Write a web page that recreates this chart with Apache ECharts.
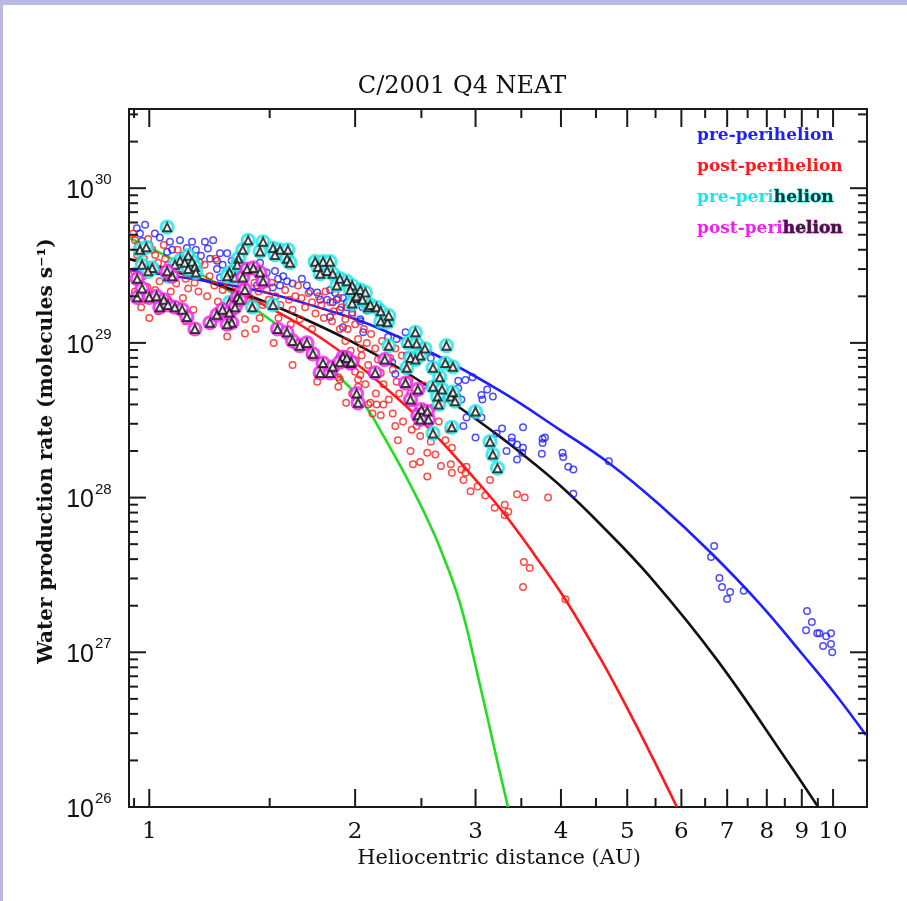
<!DOCTYPE html>
<html>
<head>
<meta charset="utf-8">
<script src="https://cdn.jsdelivr.net/npm/echarts@6/dist/echarts.min.js"></script>
<style>
html,body{margin:0;padding:0;background:#fff;}
#chart{width:907px;height:901px;}
</style>
</head>
<body>
<div id="chart"></div>
<script>
// ---------- axis ranges & ticks ----------
const X_MIN = 0.934, X_MAX = 11.21;
const Y_MIN = 1e26, Y_MAX = 3.25e30;
const xTickValues = [1, 2, 3, 4, 5, 6, 7, 8, 9, 10];
const xTickLabels = ['1', '2', '3', '4', '5', '6', '7', '8', '9', '10'];
const xMinorTicks = [0.95, 1.5, 2.5, 3.5, 4.5, 5.5, 6.5, 7.5, 8.5, 9.5];
const yTickValues = [1e26, 1e27, 1e28, 1e29, 1e30];
const yTickExponents = ['26', '27', '28', '29', '30'];
const yMinorTicks = [2e26, 3e26, 4e26, 5e26, 6e26, 7e26, 8e26, 9e26,
  2e27, 3e27, 4e27, 5e27, 6e27, 7e27, 8e27, 9e27,
  2e28, 3e28, 4e28, 5e28, 6e28, 7e28, 8e28, 9e28,
  2e29, 3e29, 4e29, 5e29, 6e29, 7e29, 8e29, 9e29,
  2e30, 3e30];

// ---------- model curves ----------
const blueModel = [[0.934,2.96e29],[1.404,2.23e29],[1.838,1.61e29],[2.105,1.31e29],[2.574,8.73e28],[3.26,4.89e28],[3.987,2.74e28],[4.72,1.65e28],[5.58,8.96e27],[6.61,4.45e27],[7.82,2.05e27],[9.04,9.6e26],[10.07,5.38e26],[11.17,2.92e26]];
const blackModel = [[0.934,3.49e29],[1.186,2.59e29],[1.404,2.01e29],[1.662,1.47e29],[1.968,1.03e29],[2.33,6.78e28],[2.753,4.21e28],[3.26,2.47e28],[3.60,1.75e28],[4.055,1.12e28],[4.563,6.75e27],[5.40,3.07e27],[6.77,8.9e26],[8.56,2.0e26],[9.51,1.0e26]];
const redModel = [[0.934,3.49e29],[1.002,3.24e29],[1.186,2.61e29],[1.404,1.94e29],[1.662,1.31e29],[1.968,7.87e28],[2.33,4.21e28],[2.635,2.47e28],[2.975,1.36e28],[3.29,8.07e27],[3.66,4.26e27],[4.055,2.21e27],[4.563,9.19e26],[4.98,4.5e26],[5.44,2.1e26],[5.91,1.0e26]];
const greenModel = [[0.937,4.76e29],[1.252,2.44e29],[1.552,1.27e29],[1.764,8.1e28],[1.968,5.11e28],[2.09,3.68e28],[2.175,2.74e28],[2.303,1.75e28],[2.406,1.22e28],[2.53,7.83e27],[2.662,4.72e27],[2.847,2.08e27],[3.045,6.15e26],[3.226,2.0e26],[3.346,1.0e26]];

// ---------- observations ----------
const bluePre = [
[0.959,5.5e29],[0.969,5.1e29],[0.986,5.8e29],[0.976,4.55e29],[1.0,4.3e29],[1.019,5.1e29],[1.036,4.8e29],
[1.072,4.5e29],[1.08,4.0e29],[1.062,3.87e29],[1.109,4.6e29],[1.135,4.1e29],[1.12,3.66e29],[1.155,4.5e29],
[1.17,4.0e29],[1.19,3.66e29],[1.218,4.07e29],[1.227,3.5e29],[1.256,3.4e29],[1.269,3.8e29],[1.3,3.8e29],
[1.28,3.2e29],[1.256,3.0e29],[1.32,3.4e29],[1.325,3.0e29],[1.335,2.7e29],[1.269,2.65e29],[1.24,4.6e29],[1.206,4.5e29],
[1.452,3.3e29],[1.485,2.85e29],[1.527,2.92e29],[1.543,2.6e29],[1.57,2.7e29],[1.59,2.5e29],[1.62,2.42e29],
[1.553,2.35e29],[1.516,2.28e29],[1.467,2.5e29],[1.437,2.35e29],[1.672,2.6e29],[1.70,2.35e29],[1.719,2.16e29],[1.76,2.12e29],
[1.778,1.9e29],[1.82,1.9e29],[1.838,2.2e29],[1.88,1.9e29],[1.9,1.64e29],[1.945,1.7e29],[1.98,1.57e29],
[2.01,1.83e29],[2.05,1.7e29],[2.035,1.42e29],[1.838,1.47e29],
[1.87,2.1e29],[1.92,1.95e29],[1.855,1.83e29],[1.945,1.83e29],[2.08,1.62e29],[2.035,1.38e29],[2.055,1.17e29],
[1.92,1.26e29],[2.235,1.09e29],[2.37,1.17e29],[2.3,1.06e29],[2.38,8.3e28],[2.265,7.5e28],[2.58,8.0e28],
[2.29,6.3e28],[2.83,5.7e28],[2.9,5.75e28],[2.83,5.1e28],[2.82,4.5e28],[2.86,4.3e28],[3.06,4.6e28],
[3.07,4.3e28],[3.12,5.0e28],[3.18,4.5e28],[2.97,6.0e28],[2.91,3.3e28],[3.06,3.3e28],[2.88,2.9e28],
[3.22,2.6e28],[3.28,2.8e28],[3.39,2.45e28],[3.52,2.85e28],[3.51,1.95e28],[3.33,2.0e28],[3.45,1.76e28],[3.0,2.45e28],
[3.39,2.3e28],[3.45,2.2e28],[3.52,2.1e28],[3.76,2.4e28],[3.79,2.45e28],[3.76,2.25e28],[3.75,1.92e28],
[4.02,1.95e28],[4.03,1.83e28],[4.1,1.58e28],[4.17,1.52e28],[4.17,1.06e28],[4.7,1.72e28],
[6.7,4.87e27],[6.63,4.13e27],[6.82,3.02e27],[6.88,2.64e27],[7.07,2.45e27],[7.4,2.5e27],[7.0,2.21e27],
[9.16,1.85e27],[9.31,1.57e27],[9.13,1.39e27],[9.48,1.33e27],[9.55,1.33e27],[9.93,1.33e27],[9.77,1.27e27],[9.67,1.1e27],[9.93,1.13e27],[9.97,1.0e27]
];

const redPost = [
[0.947,5.1e29],[0.953,4.6e29],[0.963,4.3e29],[0.973,4.0e29],[0.96,3.7e29],[0.97,3.3e29],[0.982,3.5e29],[0.99,3.2e29],
[0.95,2.9e29],[0.98,2.7e29],[0.966,2.45e29],[0.993,2.3e29],[0.953,2.15e29],[0.986,1.9e29],[0.973,1.7e29],[0.996,4.7e29],
[1.01,4.0e29],[1.02,3.7e29],[1.03,3.3e29],[1.045,2.9e29],[1.035,2.5e29],[1.02,2.2e29],[1.055,3.5e29],[1.065,3.2e29],
[1.08,2.7e29],[1.095,2.42e29],[1.075,2.15e29],[1.11,3.0e29],[1.13,2.6e29],[1.14,2.25e29],[1.12,1.95e29],[1.155,2.9e29],
[1.165,2.45e29],[1.18,2.15e29],[1.185,3.3e29],[1.15,3.7e29],[1.10,4.0e29],[1.05,4.3e29],[1.085,1.76e29],[1.03,1.6e29],
[1.16,1.64e29],[1.065,1.9e29],[1.0,1.45e29],[1.13,1.38e29],
[1.205,3.2e29],[1.225,2.7e29],[1.245,2.35e29],[1.215,2.0e29],[1.26,1.85e29],[1.28,2.2e29],[1.295,2.5e29],[1.31,2.9e29],
[1.335,2.35e29],[1.35,2.0e29],[1.32,1.7e29],[1.37,2.7e29],[1.385,2.25e29],[1.405,1.95e29],[1.425,2.45e29],[1.445,2.15e29],
[1.465,1.76e29],[1.485,2.2e29],[1.495,1.9e29],[1.435,3.0e29],[1.355,3.3e29],[1.25,3.5e29],[1.29,1.45e29],[1.38,1.42e29],
[1.45,1.45e29],[1.3,1.1e29],[1.38,1.15e29],[1.43,1.23e29],
[1.51,2.45e29],[1.53,2.0e29],[1.555,1.76e29],[1.58,2.2e29],[1.6,1.9e29],[1.62,1.64e29],[1.635,2.0e29],[1.65,2.35e29],
[1.67,1.95e29],[1.69,1.7e29],[1.71,2.1e29],[1.73,1.83e29],[1.75,1.55e29],[1.77,2.0e29],[1.785,1.76e29],[1.8,1.45e29],
[1.545,1.45e29],[1.61,1.32e29],[1.66,1.42e29],[1.73,1.23e29],[1.635,9.6e28],[1.72,8.3e28],[1.52,1.0e29],[1.62,7.2e28],
[1.76,5.6e28],[1.89,5.2e28],
[1.81,2.15e29],[1.84,1.83e29],[1.86,1.6e29],[1.89,1.95e29],[1.91,1.7e29],[1.935,1.42e29],[1.95,1.23e29],[1.98,1.52e29],
[2.0,1.32e29],[2.02,1.06e29],[2.04,9.2e28],[2.06,1.23e29],[2.08,1.0e29],[2.045,8.3e28],[2.005,7.7e28],[1.97,8.9e28],
[1.935,1.03e29],[1.9,1.23e29],[1.85,1.38e29],[2.09,7.2e28],[2.035,6.2e28],[2.07,5.4e28],[1.98,4.7e28],[1.94,4.1e28],
[1.89,6.0e28],[1.9,5.8e28],[2.02,5.8e28],[2.02,5.2e28],[2.0,6.5e28],
[2.11,1.14e29],[2.14,9.2e28],[2.16,7.8e28],[2.18,6.4e28],[2.2,5.4e28],[2.23,9.6e28],[2.25,8.0e28],[2.27,6.7e28],
[2.3,5.6e28],[2.32,4.7e28],[2.34,8.3e28],[2.37,6.8e28],[2.4,5.8e28],[2.145,4.7e28],[2.105,4.1e28],[2.2,4.0e28],
[2.24,4.3e28],[2.27,3.5e28],[2.18,3.4e28],[2.12,3.5e28],[2.09,4.0e28],[2.15,4.0e28],[2.29,2.9e28],[2.35,3.1e28],
[2.31,2.35e28],[2.19,1.03e29],[2.29,9.2e28],
[2.41,4.7e28],[2.43,4.1e28],[2.46,3.4e28],[2.42,2.75e28],[2.46,2.9e28],[2.49,2.5e28],[2.41,2.0e28],[2.49,1.7e28],
[2.43,1.64e28],[2.55,1.95e28],[2.58,2.3e28],[2.67,1.6e28],[2.76,1.64e28],[2.77,1.45e28],[2.9,1.45e28],[2.91,1.58e28],
[2.55,1.37e28],[2.86,1.52e28],[2.53,3.3e28],[2.59,3.8e28],[2.65,3.1e28],[2.71,2.35e28],[2.74,2.75e28],[2.77,2.1e28],
[2.62,1.9e28],[2.69,4.3e28],[2.47,4.8e28],[2.52,5.3e28],
[2.88,1.3e28],[3.02,1.18e28],[3.15,1.3e28],[3.1,1.03e28],[2.95,1.1e28],[3.2,8.6e27],[3.35,8.1e27],[3.45,1.05e28],
[3.54,1.0e28],[3.83,1.0e28],[3.31,9.0e27],[3.31,7.7e27],[3.53,3.84e27],[3.6,3.51e27],[3.52,2.64e27],[4.06,2.2e27]
];

const cyanPre = [
[1.062,5.6e29],[0.969,4.0e29],[0.99,4.15e29],[0.976,3.2e29],[1.01,3.05e29],[0.996,2.9e29],
[1.109,3.4e29],[1.14,3.66e29],[1.127,3.3e29],[1.155,3.35e29],[1.166,3.1e29],[1.14,3.0e29],[1.09,3.2e29],[1.072,2.9e29],[1.17,2.85e29],[1.065,2.7e29],
[1.395,4.6e29],[1.467,4.5e29],[1.452,3.9e29],[1.37,4.0e29],[1.35,3.5e29],[1.345,3.2e29],[1.31,2.85e29],[1.3,2.7e29],[1.335,2.65e29],
[1.517,4.1e29],[1.553,4.0e29],[1.595,4.0e29],[1.527,3.7e29],[1.59,3.5e29],[1.606,3.3e29],
[1.748,3.35e29],[1.795,3.35e29],[1.838,3.35e29],[1.765,3.1e29],[1.82,2.92e29],[1.855,2.8e29],[1.778,2.8e29],[1.9,2.6e29],[1.945,2.5e29],[1.98,2.35e29],[2.035,2.2e29],[2.07,2.12e29],[2.09,1.7e29],[2.0,1.95e29],
[1.31,1.83e29],[1.415,1.7e29],[1.517,1.76e29],
[1.88,2.35e29],[1.968,2.2e29],[2.01,2.0e29],[1.98,1.8e29],[2.05,1.9e29],[2.105,1.76e29],[2.15,1.7e29],[2.18,1.6e29],[2.18,1.38e29],[2.23,1.36e29],[2.24,1.5e29],
[2.45,1.17e29],[2.39,1.0e29],[2.46,9.9e28],[2.24,9.6e28],[2.53,9.2e28],[2.49,8.3e28],[2.41,8.0e28],[2.45,7.8e28],[2.38,6.9e28],
[2.72,9.6e28],[2.71,7.4e28],[2.78,7.0e28],[2.6,6.9e28],[2.66,6.0e28],[2.6,5.2e28],[2.68,5.0e28],[2.64,4.5e28],[2.76,4.5e28],[2.78,4.8e28],[2.65,4.0e28],
[3.0,3.6e28],[2.77,2.85e28],[2.6,2.6e28],[3.15,2.3e28],[3.18,1.9e28],[3.23,1.55e28],[2.8,4.2e28]
];

const magentaPost = [
[0.96,2.6e29],[0.976,2.25e29],[0.96,1.97e29],[1.0,1.97e29],[1.025,2.0e29],[1.05,1.9e29],[1.036,1.7e29],[1.065,1.76e29],[1.09,1.7e29],[1.117,1.64e29],[1.135,1.47e29],[1.166,1.23e29],[1.08,2.7e29],[1.062,2.9e29],
[1.227,1.35e29],[1.256,1.52e29],[1.28,1.64e29],[1.31,1.57e29],[1.335,1.7e29],[1.345,1.97e29],[1.37,2.65e29],[1.39,3.0e29],[1.42,3.05e29],[1.452,2.85e29],[1.467,2.5e29],[1.38,2.2e29],[1.357,1.9e29],[1.32,1.35e29],[1.3,1.32e29],
[1.54,1.23e29],[1.59,1.17e29],[1.62,1.03e29],[1.66,9.6e28],[1.7,1.0e29],[1.735,8.5e28],[1.795,7.4e28],[1.778,6.4e28],[1.838,6.4e28],[1.92,8.1e28],[1.968,7.4e28],[2.01,4.7e28],
[1.855,7.0e28],[1.9,7.5e28],[1.945,8.0e28],[1.975,7.5e28],[2.02,4.1e28],[2.21,7.8e28],[2.14,6.4e28],[2.37,5.5e28],[2.47,5.0e28],[2.41,4.3e28],[2.5,3.7e28],[2.55,3.6e28],[2.47,3.4e28],[2.56,3.2e28],[2.49,3.2e28]
];

// ---------- styling ----------
const AX = '#1a1a1a';
const SERIF = '"DejaVu Serif", "Liberation Serif", serif';
const SANS = '"Liberation Sans", Arial, sans-serif';

function xTickRender(len) {
  return function (params, api) {
    const v = api.value(0);
    const b = api.coord([v, Y_MIN]);
    const t = api.coord([v, Y_MAX]);
    return { type: 'group', children: [
      { type: 'line', shape: { x1: b[0], y1: b[1], x2: b[0], y2: b[1] - len }, style: { stroke: AX, lineWidth: 2 } },
      { type: 'line', shape: { x1: t[0], y1: t[1], x2: t[0], y2: t[1] + len }, style: { stroke: AX, lineWidth: 2 } }
    ]};
  };
}
function yTickRender(len) {
  return function (params, api) {
    const v = api.value(1);
    const l = api.coord([X_MIN, v]);
    const r = api.coord([X_MAX, v]);
    return { type: 'group', children: [
      { type: 'line', shape: { x1: l[0], y1: l[1], x2: l[0] + len, y2: l[1] }, style: { stroke: AX, lineWidth: 2 } },
      { type: 'line', shape: { x1: r[0], y1: r[1], x2: r[0] - len, y2: r[1] }, style: { stroke: AX, lineWidth: 2 } }
    ]};
  };
}
function xLabelRender(params, api) {
  const p = api.coord([api.value(0), Y_MIN]);
  return { type: 'text', style: { x: p[0], y: p[1] + 25, text: xTickLabels[params.dataIndex], align: 'center', verticalAlign: 'middle', font: '23px ' + SERIF, fill: '#111' } };
}
function yLabelRender(params, api) {
  const p = api.coord([X_MIN, api.value(1)]);
  return { type: 'group', children: [
    { type: 'text', style: { x: p[0] - 35, y: p[1] + 3, text: '10', align: 'right', verticalAlign: 'middle', font: '25px ' + SANS, fill: '#111' } },
    { type: 'text', style: { x: p[0] - 34, y: p[1] - 8, text: yTickExponents[params.dataIndex], align: 'left', verticalAlign: 'middle', font: '15px ' + SANS, fill: '#111' } }
  ]};
}

function lineSeries(data, color) {
  return { type: 'line', data: data, showSymbol: false, smooth: 0.4, silent: true, z: 2,
    lineStyle: { color: color, width: 2.6 } };
}
function dotSeries(data, color) {
  return { type: 'scatter', data: data, symbol: 'circle', symbolSize: 6.5, silent: true, z: 3,
    itemStyle: { color: 'rgba(255,255,255,0)', borderColor: color, borderWidth: 1.5 } };
}
function ringSeries(data, color, z) {
  return { type: 'scatter', data: data, symbol: 'circle', symbolSize: 12, silent: true, z: z,
    itemStyle: { color: '#ffffff', borderColor: color, borderWidth: 3.2 } };
}
function triSeries(data, z) {
  return { type: 'scatter', data: data, symbol: 'triangle', symbolSize: 8, silent: true, z: z,
    itemStyle: { color: '#ffffff', borderColor: '#111', borderWidth: 2 } };
}

const LEG = 'bold 17px ' + SERIF;
const chart = echarts.init(document.getElementById('chart'), null, { renderer: 'canvas' });
chart.setOption({
  animation: false,
  backgroundColor: '#ffffff',
  grid: { left: 129, top: 109, right: 40, bottom: 94, show: true, borderColor: AX, borderWidth: 2, backgroundColor: 'rgba(0,0,0,0)' },
  xAxis: { type: 'log', logBase: 10, min: X_MIN, max: X_MAX,
    axisLine: { show: false }, axisTick: { show: false }, axisLabel: { show: false }, splitLine: { show: false } },
  yAxis: { type: 'log', logBase: 10, min: Y_MIN, max: Y_MAX,
    axisLine: { show: false }, axisTick: { show: false }, axisLabel: { show: false }, splitLine: { show: false } },
  graphic: [
    { type: 'rect', left: 0, top: 0, shape: { width: 907, height: 5 }, style: { fill: '#b8bae3' }, silent: true },
    { type: 'rect', left: 0, top: 0, shape: { width: 3, height: 901 }, style: { fill: '#b8bae3' }, silent: true },
    { type: 'text', x: 462, y: 87, style: { text: 'C/2001 Q4 NEAT', align: 'center', verticalAlign: 'middle', font: '24px ' + SERIF, fill: '#111' } },
    { type: 'text', x: 499, y: 859, style: { text: 'Heliocentric distance (AU)', align: 'center', verticalAlign: 'middle', font: '21px ' + SERIF, fill: '#111' } },
    { type: 'text', x: 47, y: 451, rotation: Math.PI / 2, style: { text: 'Water production rate (molecules s⁻¹)', align: 'center', verticalAlign: 'middle', font: 'bold 20px ' + SERIF, fill: '#111' } },
    { type: 'text', x: 697, y: 136, style: { text: 'pre-perihelion', align: 'left', verticalAlign: 'middle', font: LEG, fill: '#1f1fff' } },
    { type: 'text', x: 697, y: 167, style: { text: 'post-perihelion', align: 'left', verticalAlign: 'middle', font: LEG, fill: '#ff1a1a' } },
    { type: 'text', x: 697, y: 198, style: { text: '{c|pre-peri}{k|helion}', align: 'left', verticalAlign: 'middle',
        rich: { c: { font: LEG, fill: '#19e6e6' }, k: { font: LEG, fill: '#1a3a3a', stroke: '#19e6e6', lineWidth: 1 } } } },
    { type: 'text', x: 697, y: 229, style: { text: '{c|post-peri}{k|helion}', align: 'left', verticalAlign: 'middle',
        rich: { c: { font: LEG, fill: '#ee22ee' }, k: { font: LEG, fill: '#3a1a3a', stroke: '#ee22ee', lineWidth: 1 } } } }
  ],
  series: [
    lineSeries(greenModel, '#22dd22'),
    lineSeries(redModel, '#ff1a1a'),
    lineSeries(blackModel, '#111111'),
    lineSeries(blueModel, '#1f1fff'),
    dotSeries(bluePre, '#1f1fff'),
    dotSeries(redPost, '#ff1a1a'),
    ringSeries(cyanPre, '#19e6e6', 4),
    triSeries(cyanPre, 5),
    ringSeries(magentaPost, '#ee22ee', 6),
    triSeries(magentaPost, 7),
    { type: 'custom', silent: true, z: 10, data: xTickValues.map(v => [v, Y_MIN]), renderItem: xTickRender(18) },
    { type: 'custom', silent: true, z: 10, data: xMinorTicks.map(v => [v, Y_MIN]), renderItem: xTickRender(9) },
    { type: 'custom', silent: true, z: 10, data: yTickValues.map(v => [X_MIN, v]), renderItem: yTickRender(17) },
    { type: 'custom', silent: true, z: 10, data: yMinorTicks.map(v => [X_MIN, v]), renderItem: yTickRender(9) },
    { type: 'custom', silent: true, z: 10, data: xTickValues.map(v => [v, Y_MIN]), renderItem: xLabelRender },
    { type: 'custom', silent: true, z: 10, data: yTickValues.map(v => [X_MIN, v]), renderItem: yLabelRender }
  ]
});
</script>
</body>
</html>
